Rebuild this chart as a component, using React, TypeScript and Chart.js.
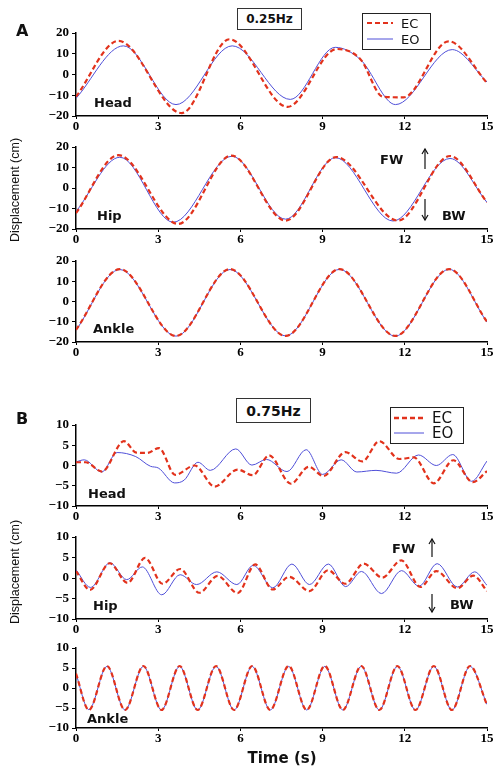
import React, { useEffect, useRef } from 'react';
import { Chart, registerables } from 'chart.js';

Chart.register(...registerables);

// ---------- Data (time in s, displacement in cm) ----------
// A: 0.25 Hz
const A_HEAD_EC_T = [0, 1.55, 3.86, 5.6, 7.72, 9.52, 10.38, 11.2, 11.95, 13.6, 15];
const A_HEAD_EC_V = [-10.7, 16.2, -18.6, 17.0, -15.6, 12.3, 7.4, -10.7, -11.0, 16.0, -4.0];
const A_HEAD_EO_T = [0, 1.73, 3.65, 5.7, 7.82, 9.46, 10.38, 11.66, 13.73, 15];
const A_HEAD_EO_V = [-11.5, 13.8, -14.5, 13.8, -12.0, 13.1, 7.2, -14.5, 12.0, -3.6];

const A_HIP_EC_T = [0, 1.55, 3.73, 5.67, 7.65, 9.5, 11.75, 13.65, 15];
const A_HIP_EC_V = [-12.3, 16.0, -17.5, 15.8, -15.9, 15.1, -15.9, 15.6, -7.0];
const A_HIP_EO_T = [0, 1.6, 3.55, 5.69, 7.65, 9.47, 11.57, 13.65, 15];
const A_HIP_EO_V = [-11.5, 15.0, -16.7, 15.5, -15.2, 14.8, -16.1, 14.4, -7.0];

const A_ANKLE_EC_T = [0, 1.6, 3.65, 5.62, 7.65, 9.62, 11.65, 13.62, 15];
const A_ANKLE_EC_V = [-14.0, 16.0, -17.0, 16.0, -17.0, 16.0, -17.0, 16.0, -10.0];
const A_ANKLE_EO_T = [0, 1.6, 3.65, 5.62, 7.65, 9.62, 11.65, 13.62, 15];
const A_ANKLE_EO_V = [-14.2, 15.8, -17.1, 15.8, -17.0, 15.9, -17.1, 15.9, -10.2];

// B: 0.75 Hz
const B_HEAD_EC_T = [0, 0.35, 0.95, 1.75, 2.2, 2.6, 3.03, 3.62, 4.33, 5.06, 5.9, 6.45, 7.05, 7.84, 8.5, 9.03, 9.83, 10.45, 11.07, 11.8, 12.33, 13.06, 13.77, 14.48, 15];
const B_HEAD_EC_V = [0.8, 0.8, -1.5, 6.0, 3.2, 3.1, 4.3, -2.3, 0.0, -5.2, -1.0, -2.4, 2.5, -4.5, -0.3, -2.6, 3.3, 1.0, 6.0, 1.6, 2.0, -4.4, 1.3, -4.1, -1.4];
const B_HEAD_EO_T = [0, 0.3, 0.94, 1.5, 2.18, 2.72, 3.0, 3.6, 3.95, 4.45, 4.9, 5.83, 6.42, 6.95, 7.7, 8.4, 9.0, 9.68, 10.25, 10.95, 11.7, 12.5, 13.15, 13.75, 14.44, 15];
const B_HEAD_EO_V = [0.9, 1.4, -1.6, 3.2, 2.2, -0.2, -0.6, -4.3, -3.6, 0.8, -1.2, 4.1, 0.1, 1.5, -1.5, 3.9, -2.2, 1.4, -1.6, -1.2, -1.9, 2.6, 0.0, 2.7, -3.9, 1.1];

const B_HIP_EC_T = [0, 0.51, 1.23, 1.88, 2.52, 3.16, 3.8, 4.5, 5.17, 5.9, 6.54, 7.18, 7.78, 8.52, 9.2, 9.83, 10.5, 11.18, 11.87, 12.57, 13.15, 13.92, 14.5, 15];
const B_HIP_EC_V = [1.7, -2.9, 3.6, -1.2, 4.9, -1.4, 2.2, -3.6, 0.5, -3.7, 3.3, -2.8, 0.3, -3.2, 1.9, -1.4, 3.5, 0.1, 4.3, -2.2, 1.7, -2.5, 0.6, -3.2];
const B_HIP_EO_T = [0, 0.53, 1.24, 1.85, 2.42, 3.13, 3.8, 4.4, 5.14, 5.87, 6.47, 7.18, 7.88, 8.52, 9.21, 9.84, 10.42, 11.15, 11.88, 12.52, 13.18, 13.92, 14.55, 15];
const B_HIP_EO_V = [2.0, -2.3, 3.7, -0.4, 2.7, -4.1, 0.8, -1.6, 1.5, -1.6, 3.1, -2.4, 3.4, -1.6, 3.4, -2.1, 1.6, -3.8, 1.8, -2.0, 3.5, -2.2, 1.5, -1.8];

const B_ANKLE_EC_T = [0, 0.47, 1.13, 1.79, 2.46, 3.12, 3.78, 4.44, 5.11, 5.77, 6.43, 7.09, 7.76, 8.42, 9.08, 9.74, 10.41, 11.07, 11.73, 12.39, 13.06, 13.72, 14.38, 15];
const B_ANKLE_EC_V = [3.6, -5.5, 5.5, -5.5, 5.5, -5.5, 5.5, -5.5, 5.5, -5.5, 5.5, -5.5, 5.5, -5.5, 5.5, -5.5, 5.5, -5.5, 5.5, -5.5, 5.5, -5.5, 5.5, -4.2];
const B_ANKLE_EO_T = [0, 0.47, 1.13, 1.79, 2.46, 3.12, 3.78, 4.44, 5.11, 5.77, 6.43, 7.09, 7.76, 8.42, 9.08, 9.74, 10.41, 11.07, 11.73, 12.39, 13.06, 13.72, 14.38, 15];
const B_ANKLE_EO_V = [3.5, -5.4, 5.4, -5.5, 5.4, -5.5, 5.4, -5.5, 5.4, -5.5, 5.4, -5.5, 5.4, -5.5, 5.4, -5.5, 5.4, -5.5, 5.4, -5.5, 5.4, -5.5, 5.4, -4.1];

const X_MIN = 0;
const X_MAX = 15;
const X_STEP = 3;

const RED = '#e2321c';
const BLUE = '#4f4fd8';

type PanelDef = {
  top: number;
  bottom: number;
  yMax: number;
  yStep: number;
  ecT: number[];
  ecV: number[];
  eoT: number[];
  eoV: number[];
};

const PANELS: PanelDef[] = [
  { top: 33, bottom: 116, yMax: 20, yStep: 10, ecT: A_HEAD_EC_T, ecV: A_HEAD_EC_V, eoT: A_HEAD_EO_T, eoV: A_HEAD_EO_V },
  { top: 147, bottom: 229, yMax: 20, yStep: 10, ecT: A_HIP_EC_T, ecV: A_HIP_EC_V, eoT: A_HIP_EO_T, eoV: A_HIP_EO_V },
  { top: 261, bottom: 342, yMax: 20, yStep: 10, ecT: A_ANKLE_EC_T, ecV: A_ANKLE_EC_V, eoT: A_ANKLE_EO_T, eoV: A_ANKLE_EO_V },
  { top: 425, bottom: 506, yMax: 10, yStep: 5, ecT: B_HEAD_EC_T, ecV: B_HEAD_EC_V, eoT: B_HEAD_EO_T, eoV: B_HEAD_EO_V },
  { top: 537, bottom: 619, yMax: 10, yStep: 5, ecT: B_HIP_EC_T, ecV: B_HIP_EC_V, eoT: B_HIP_EO_T, eoV: B_HIP_EO_V },
  { top: 648, bottom: 728, yMax: 10, yStep: 5, ecT: B_ANKLE_EC_T, ecV: B_ANKLE_EC_V, eoT: B_ANKLE_EO_T, eoV: B_ANKLE_EO_V },
];

const PAD_TOP = 10;
const X_AXIS_H = 22;
const Y_AXIS_W = 76;
const W = 493;

const toXY = (t: number[], v: number[]) => t.map((x, i) => ({ x, y: v[i] }));

const tickFont = { family: "'Liberation Serif', 'Times New Roman', serif", weight: 'bold' as const, size: 13 };

function PanelChart({ p }: { p: PanelDef }) {
  const ref = useRef<HTMLCanvasElement>(null);
  const h = PAD_TOP + (p.bottom - p.top) + X_AXIS_H;
  useEffect(() => {
    const chart = new Chart(ref.current as HTMLCanvasElement, {
      type: 'line',
      data: {
        datasets: [
          {
            label: 'EC',
            data: toXY(p.ecT, p.ecV),
            borderColor: RED,
            borderWidth: 2.2,
            borderDash: [5, 3],
            pointRadius: 0,
            fill: false,
            cubicInterpolationMode: 'monotone',
          },
          {
            label: 'EO',
            data: toXY(p.eoT, p.eoV),
            borderColor: BLUE,
            borderWidth: 1,
            pointRadius: 0,
            fill: false,
            cubicInterpolationMode: 'monotone',
          },
        ],
      },
      options: {
        responsive: false,
        animation: false,
        events: [],
        layout: { padding: { top: PAD_TOP, right: 6, left: 0, bottom: 0 } },
        plugins: { legend: { display: false }, tooltip: { enabled: false } },
        scales: {
          x: {
            type: 'linear',
            min: X_MIN,
            max: X_MAX,
            ticks: { stepSize: X_STEP, font: tickFont, color: '#000', padding: 0, maxRotation: 0 },
            grid: { display: true, drawOnChartArea: false, drawTicks: true, tickLength: 3, color: '#000' },
            border: { display: true, color: '#000', width: 1.5 },
            afterFit: (s: any) => {
              s.height = X_AXIS_H;
              s.paddingLeft = 0;
              s.paddingRight = 0;
            },
          },
          y: {
            type: 'linear',
            min: -p.yMax,
            max: p.yMax,
            ticks: {
              stepSize: p.yStep,
              font: tickFont,
              color: '#000',
              padding: 3,
              callback: (v: any) => (Number(v) < 0 ? '\u2212' + Math.abs(Number(v)) : String(v)),
            },
            grid: { display: true, drawOnChartArea: false, drawTicks: true, tickLength: 4, color: '#000' },
            border: { display: true, color: '#000', width: 1.5 },
            afterFit: (s: any) => {
              s.width = Y_AXIS_W;
              s.paddingTop = 0;
              s.paddingBottom = 0;
            },
          },
        },
      },
    } as any);
    return () => chart.destroy();
  }, []);
  return (
    <canvas
      ref={ref}
      width={W}
      height={h}
      style={{ position: 'absolute', left: 0, top: p.top - PAD_TOP, width: W, height: h }}
    />
  );
}

const SANS = "'DejaVu Sans', Verdana, sans-serif";
const ARIAL = "'Liberation Sans', Arial, sans-serif";

function Label({ x, y, text, size, bold = true, family = SANS, extra = {} }: any) {
  return (
    <div
      style={{
        position: 'absolute',
        left: x,
        top: y,
        transform: 'translateY(-50%)',
        fontFamily: family,
        fontSize: size,
        fontWeight: bold ? 'bold' : 'normal',
        lineHeight: 1,
        whiteSpace: 'nowrap',
        color: '#111',
        ...extra,
      }}
    >
      {text}
    </div>
  );
}

function Box({ x, y, w, h, text, size }: any) {
  return (
    <div
      style={{
        position: 'absolute',
        left: x,
        top: y,
        width: w,
        height: h,
        boxSizing: 'border-box',
        border: '1.5px solid #333',
        background: '#fff',
        display: 'flex',
        alignItems: 'center',
        justifyContent: 'center',
        fontFamily: SANS,
        fontWeight: 'bold',
        fontSize: size,
        color: '#111',
      }}
    >
      {text}
    </div>
  );
}

function LegendBox({ x, y, w, h }: any) {
  return (
    <div
      style={{
        position: 'absolute',
        left: x,
        top: y,
        width: w,
        height: h,
        boxSizing: 'border-box',
        border: '1.2px solid #222',
        background: '#fff',
      }}
    />
  );
}

function Arrow({ x, y1, y2 }: { x: number; y1: number; y2: number }) {
  const dir = y2 < y1 ? -1 : 1;
  return (
    <g stroke="#111" strokeWidth={1.2} fill="none">
      <line x1={x} y1={y1} x2={x} y2={y2} />
      <polyline points={`${x - 3},${y2 - dir * 5} ${x},${y2} ${x + 3},${y2 - dir * 5}`} />
    </g>
  );
}

export default function App() {
  return (
    <div style={{ position: 'absolute', left: 0, top: 0, width: W, height: 769, background: '#fff', overflow: 'hidden' }}>
      {PANELS.map((p, i) => (
        <PanelChart key={i} p={p} />
      ))}

      {/* Legend boxes */}
      <LegendBox x={362} y={13} w={69} h={37} />
      <LegendBox x={390} y={407} w={74} h={37} />

      <svg width={W} height={769} style={{ position: 'absolute', left: 0, top: 0, pointerEvents: 'none' }}>
        <line x1={367} y1={23} x2={393} y2={23} stroke={RED} strokeWidth={2.2} strokeDasharray="5 3" />
        <line x1={367} y1={39} x2={393} y2={39} stroke={BLUE} strokeWidth={1} />
        <line x1={394} y1={418} x2={424} y2={418} stroke={RED} strokeWidth={2.5} strokeDasharray="5 3" />
        <line x1={394} y1={433} x2={424} y2={433} stroke={BLUE} strokeWidth={1} />
        <Arrow x={425} y1={169} y2={149} />
        <Arrow x={425} y1={199} y2={220} />
        <Arrow x={432} y1={557} y2={539} />
        <Arrow x={432} y1={594} y2={612} />
      </svg>

      <Label x={401} y={23} text="EC" size={13} bold={false} />
      <Label x={401} y={39} text="EO" size={13} bold={false} />
      <Label x={432} y={418} text="EC" size={15} bold={false} />
      <Label x={432} y={433} text="EO" size={15} bold={false} />

      <Box x={237} y={8} w={65} h={22} text="0.25Hz" size={12} />
      <Box x={236} y={398} w={75} h={25} text="0.75Hz" size={14} />

      <Label x={16} y={31} text="A" size={16} />
      <Label x={16} y={419} text="B" size={16} />

      <Label x={94} y={102} text="Head" size={13} />
      <Label x={97} y={215} text="Hip" size={13} />
      <Label x={93} y={328} text="Ankle" size={13} />
      <Label x={88} y={493} text="Head" size={13} />
      <Label x={93} y={605} text="Hip" size={13} />
      <Label x={87} y={718} text="Ankle" size={13} />

      <Label x={380} y={159} text="FW" size={13} />
      <Label x={442} y={215} text="BW" size={13} />
      <Label x={392} y={548} text="FW" size={13} />
      <Label x={450} y={604} text="BW" size={13} />

      <div
        style={{
          position: 'absolute',
          left: 15,
          top: 190,
          transform: 'translate(-50%, -50%) rotate(-90deg)',
          fontFamily: ARIAL,
          fontSize: 12.5,
          whiteSpace: 'nowrap',
          lineHeight: 1,
          color: '#111',
        }}
      >
        Displacement (cm)
      </div>
      <div
        style={{
          position: 'absolute',
          left: 15,
          top: 572,
          transform: 'translate(-50%, -50%) rotate(-90deg)',
          fontFamily: ARIAL,
          fontSize: 12.5,
          whiteSpace: 'nowrap',
          lineHeight: 1,
          color: '#111',
        }}
      >
        Displacement (cm)
      </div>

      <div
        style={{
          position: 'absolute',
          left: 282,
          top: 758,
          transform: 'translate(-50%, -50%)',
          fontFamily: SANS,
          fontWeight: 'bold',
          fontSize: 15,
          whiteSpace: 'nowrap',
          lineHeight: 1,
          color: '#111',
        }}
      >
        Time (s)
      </div>
    </div>
  );
}
